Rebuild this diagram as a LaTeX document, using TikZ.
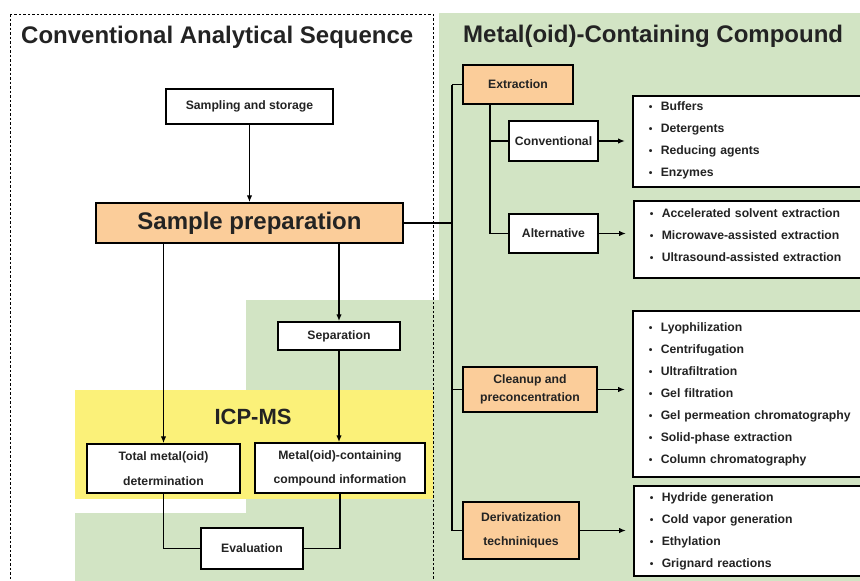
\documentclass[tikz,border=0pt]{standalone}
\usepackage{fontspec}
\setmainfont{Liberation Sans}
\usepackage{tikz}
\definecolor{boxorange}{RGB}{251,205,154}
\definecolor{bggreen}{RGB}{210,228,196}
\definecolor{bgyellow}{RGB}{251,241,121}
\definecolor{txtgray}{RGB}{35,35,35}
\usetikzlibrary{arrows.meta,positioning,calc}
\newcommand{\itm}[1]{\makebox[12pt][l]{\scalebox{0.85}{\textbullet}}#1}

\begin{document}
\begin{tikzpicture}[x=1pt, y=-1pt,
				>={Latex[length=7pt,width=5.5pt]},   %arrow tips
				box/.style={draw, line width=1.5pt, fill=white, text=txtgray, inner sep=0pt, align=center,
					font=\fontsize{12.2}{14}\selectfont\bfseries},
				obox/.style={box, fill=boxorange},
				lst/.style={draw, line width=1.5pt, fill=white, text=txtgray, anchor=west, align=left,
					inner xsep=16pt, inner ysep=0pt, text width=230pt, font=\fontsize{12.2}{22}\selectfont\bfseries},
				conn/.style={line width=1.6pt, black},
				title/.style={text=txtgray, font=\fontsize{24}{26}\selectfont\bfseries, inner sep=0pt}]
				% page
				\useasboundingbox (0,0) rectangle (860,581);
				\clip (0,0) rectangle (860,581);
				% backgrounds
				\fill[bggreen] (439,13) -- (860,13) -- (860,581) -- (75,581) -- (75,513) -- (246,513)
					-- (246,300) -- (439,300) -- cycle;
				\fill[bgyellow] (75,390) rectangle (433,499);
				\draw[dash pattern=on 2.5pt off 2pt, line width=1pt] (10,14) rectangle (433,600);
				% titles
				\node[title, anchor=base west] (ttlleft) at (21,43) {Conventional Analytical Sequence};
				\node[title, anchor=base west] (ttlright) at (463,42) {Metal(oid)-Containing Compound};
				\node[title, anchor=base, font=\fontsize{22}{26}\selectfont\bfseries] (icpms) at (253,424) {ICP-MS};
				% conventional sequence
				\node[box, minimum width=167pt, minimum height=35pt] (samp) at (249.5,106.5) {Sampling and storage};
				\node[obox, minimum width=307pt, minimum height=40pt, font=\fontsize{24}{26}\selectfont\bfseries]
					(prep) at (249.5,223) {Sample preparation};
				\node[box, minimum width=122pt, minimum height=28pt] (sep) at (339,336) {Separation};
				\node[box, minimum width=153pt, minimum height=49pt, font=\fontsize{12.2}{25}\selectfont\bfseries]
					(total) at (163.5,468.5) {Total metal(oid)\\determination};
				\node[box, minimum width=170pt, minimum height=50pt, font=\fontsize{12.2}{24}\selectfont\bfseries]
					(info) at (340,468) {Metal(oid)-containing\\compound information};
				\node[box, minimum width=102pt, minimum height=41pt] (eval) at (252,548.5) {Evaluation};
				\draw[conn,->] (samp) -- (prep);
				\draw[conn,->] (prep.south -| total.north) -- (total.north);
				\draw[conn,->] (prep.south -| sep.north) -- (sep.north);
				\draw[conn,->] (sep.south) -- (sep.south |- info.north);
				\draw[conn] (total.south) |- (eval.west);
				\draw[conn] (info.south) |- (eval.east);
				% metal(oid)-containing compound
				\coordinate (trunk) at (452,0);
				\coordinate (sub) at (490,0);
				\node[obox, minimum width=110pt, minimum height=39pt] (extr) at (518,84.5) {Extraction};
				\node[box, minimum width=89pt, minimum height=40pt] (conv) at (553.5,141) {Conventional};
				\node[box, minimum width=89pt, minimum height=39pt] (alt) at (553.5,233.5) {Alternative};
				\node[obox, minimum width=134pt, minimum height=45pt, font=\fontsize{12.2}{18}\selectfont\bfseries]
					(clean) at (530,389.5) {Cleanup and\\preconcentration};
				\node[obox, minimum width=116pt, minimum height=57pt, font=\fontsize{12.2}{24}\selectfont\bfseries]
					(deriv) at (521,530.5) {Derivatization\\techniniques};
				% lists
				\node[lst, minimum height=91pt] (lstconv) at (632,141.5)
					{\itm{Buffers}\\\itm{Detergents}\\\itm{Reducing agents}\\\itm{Enzymes}\\[-18pt]\mbox{}};
				\node[lst, minimum height=77pt] (lstalt) at (633,239.5)
					{\itm{Accelerated solvent extraction}\\\itm{Microwave-assisted extraction}\\\itm{Ultrasound-assisted extraction}\\[-13pt]\mbox{}};
				\node[lst, minimum height=166pt] (lstclean) at (632,394)
					{\itm{Lyophilization}\\\itm{Centrifugation}\\\itm{Ultrafiltration}\\\itm{Gel filtration}\\
					\itm{Gel permeation chromatography}\\\itm{Solid-phase extraction}\\\itm{Column chromatography}};
				\node[lst, minimum height=90pt] (lstderiv) at (633,531)
					{\itm{Hydride generation}\\\itm{Cold vapor generation}\\\itm{Ethylation}\\\itm{Grignard reactions}};
				% connectors
				\draw[conn] (prep.east) -- (prep.east -| trunk);
				\draw[conn] (extr.west -| trunk) -- (deriv.west -| trunk);
				\draw[conn] (extr.west -| trunk) -- (extr.west);
				\draw[conn] (clean.west -| trunk) -- (clean.west);
				\draw[conn] (deriv.west -| trunk) -- (deriv.west);
				\draw[conn] (sub |- extr.south) -- (sub |- alt.west);
				\draw[conn] (sub |- conv.west) -- (conv.west);
				\draw[conn] (sub |- alt.west) -- (alt.west);
				\draw[conn,->,shorten >=7pt] (conv.east) -- (conv.east -| lstconv.west);
				\draw[conn,->,shorten >=7pt] (alt.east) -- (alt.east -| lstalt.west);
				\draw[conn,->,shorten >=7pt] (clean.east) -- (clean.east -| lstclean.west);
				\draw[conn,->,shorten >=7pt] (deriv.east) -- (deriv.east -| lstderiv.west);
			\end{tikzpicture}
\end{document}
